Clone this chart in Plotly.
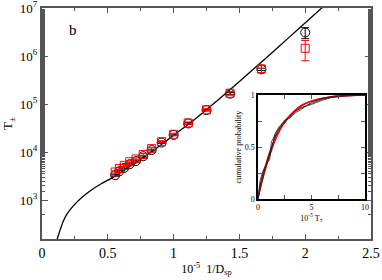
import plotly.graph_objects as go

# ---- main panel data ----
inv_d = [0.556, 0.588, 0.625, 0.667, 0.714, 0.769, 0.833, 0.909, 1.0, 1.111, 1.25, 1.429, 1.667, 2.0]
t_black = [3300, 4000, 4700, 5600, 6500, 8200, 11000, 15800, 22800, 39500, 75000, 165000, 530000, 3.1e6]
err_black = [150, 180, 200, 250, 300, 350, 450, 600, 900, 1500, 3000, 8000, 30000, 8.0e5]
t_red = [3850, 4550, 5300, 6300, 7200, 8900, 11800, 16500, 23500, 40500, 76000, 168000, 540000, 1.45e6]
err_red = [200, 230, 260, 300, 350, 420, 550, 750, 1100, 2000, 4000, 15000, 90000, 6.5e5]

fit_x = [0.112, 0.116, 0.125, 0.137, 0.16, 0.187, 0.238, 0.3, 0.365, 0.45, 0.504, 0.556, 0.667,
         0.833, 1.0, 1.15, 1.327, 1.5, 1.657, 1.809, 1.95, 2.125, 2.17]
fit_y = [120, 155, 186, 237, 355, 500, 760, 1120, 1550, 2190, 2630, 3160, 5000,
         10200, 22400, 45700, 115000, 295000, 708000, 1.66e6, 3.7e6, 1.0e7, 1.3e7]

y_tickvals = [1e3, 1e4, 1e5, 1e6, 1e7]
y_ticktext = ["10<sup>3</sup>", "10<sup>4</sup>", "10<sup>5</sup>", "10<sup>6</sup>", "10<sup>7</sup>"]
x_tickvals = [0, 0.5, 1, 1.5, 2, 2.5]
x_ticktext = ["0", "0.5", "1", "1.5", "2", "2.5"]

# ---- inset data (cumulative distributions) ----
t_cdf = [0, 0.2, 0.5, 0.8, 1.1, 1.25, 1.6, 2.0, 2.5, 3.0, 3.5, 4.0, 5.0, 6.0, 7.0, 8.0, 10.0]
cdf_black = [
    [0, 0.18, 0.28, 0.34, 0.38, 0.55, 0.62, 0.70, 0.75, 0.79, 0.84, 0.88, 0.91, 0.95, 0.98, 0.99, 1.0],
    [0, 0.10, 0.22, 0.35, 0.45, 0.50, 0.60, 0.68, 0.73, 0.80, 0.85, 0.87, 0.92, 0.96, 0.99, 1.0, 1.0],
    [0, 0.14, 0.26, 0.33, 0.42, 0.47, 0.63, 0.69, 0.76, 0.78, 0.83, 0.86, 0.93, 0.97, 0.98, 1.0, 1.0],
]
cdf_red = [
    [0, 0.09, 0.21, 0.32, 0.42, 0.46, 0.56, 0.65, 0.74, 0.80, 0.85, 0.89, 0.94, 0.97, 0.985, 0.995, 1.0],
    [0, 0.12, 0.25, 0.36, 0.46, 0.50, 0.59, 0.67, 0.75, 0.81, 0.86, 0.90, 0.94, 0.965, 0.98, 0.99, 1.0],
    [0, 0.11, 0.23, 0.34, 0.44, 0.48, 0.58, 0.66, 0.745, 0.805, 0.855, 0.895, 0.945, 0.97, 0.985, 0.995, 1.0],
]

FONT = "Liberation Serif"
AX = "#555555"

fig = go.Figure()

fig.add_trace(go.Scatter(x=fit_x, y=fit_y, mode="lines", line=dict(color="black", width=1.3, shape="spline"),
                         showlegend=False, hoverinfo="skip"))
fig.add_trace(go.Scatter(x=inv_d, y=t_black, mode="markers",
                         marker=dict(symbol="circle-open", size=9, color="black", line=dict(width=1)),
                         error_y=dict(type="data", array=err_black, color="black", thickness=1, width=4),
                         showlegend=False))
fig.add_trace(go.Scatter(x=inv_d, y=t_red, mode="markers",
                         marker=dict(symbol="square-open", size=8, color="red", line=dict(width=1)),
                         error_y=dict(type="data", array=err_red, color="red", thickness=1, width=4),
                         showlegend=False))

for ys in cdf_red:
    fig.add_trace(go.Scatter(x=t_cdf, y=ys, mode="lines", line=dict(color="red", width=1.1, shape="spline"),
                             xaxis="x2", yaxis="y2", showlegend=False))
for ys in cdf_black:
    fig.add_trace(go.Scatter(x=t_cdf, y=ys, mode="lines", line=dict(color="#222222", width=0.8),
                             xaxis="x2", yaxis="y2", showlegend=False))

fig.update_layout(
    width=382, height=280,
    margin=dict(l=42, r=11, t=8, b=41, autoexpand=False),
    paper_bgcolor="white", plot_bgcolor="white",
    font=dict(family=FONT, color="black", size=13),
    xaxis=dict(range=[0, 2.5], tickvals=x_tickvals, ticktext=x_ticktext, automargin=False,
               ticklabeloverflow="allow",
               ticks="inside", ticklen=5, tickwidth=1, tickcolor=AX,
               minor=dict(dtick=0.25, ticks="inside", ticklen=3, tickcolor=AX, showgrid=False),
               showline=True, linecolor=AX, linewidth=2, mirror="ticks", showgrid=False, zeroline=False,
               tickfont=dict(size=14, family=FONT),
               title=dict(text="10<sup>-5</sup>  1/D<sub>sp</sub>", font=dict(size=12, family=FONT), standoff=4)),
    yaxis=dict(type="log", range=[2.19, 7.001], tickvals=y_tickvals, ticktext=y_ticktext, automargin=False,
               ticklabeloverflow="allow",
               ticks="inside", ticklen=6, tickwidth=1, tickcolor=AX,
               minor=dict(ticks="inside", ticklen=3, tickcolor=AX, showgrid=False),
               showline=True, linecolor=AX, linewidth=2, mirror="ticks", showgrid=False, zeroline=False,
               tickfont=dict(size=13, family=FONT),
               title=dict(text="T<sub>±</sub>", font=dict(size=13, family=FONT), standoff=4)),
    xaxis2=dict(domain=[0.6565, 0.9818], anchor="y2", range=[0, 10], tickvals=[0, 5, 10],
                ticktext=["0", "5", "10"], automargin=False,
                ticks="inside", ticklen=4, tickcolor=AX,
                minor=dict(dtick=2.5, ticks="inside", ticklen=4, tickcolor=AX, showgrid=False),
                showline=True, linecolor="black", linewidth=1.5, mirror="ticks", showgrid=False, zeroline=False,
                tickfont=dict(size=8, family=FONT),
                title=dict(text="10<sup>-5</sup> T<sub>±</sub>", font=dict(size=8, family=FONT), standoff=2)),
    yaxis2=dict(domain=[0.173, 0.623], anchor="x2", range=[0, 1], tickvals=[0, 0.5, 1],
                ticktext=["0", "0.5", "1"], automargin=False,
                ticks="inside", ticklen=4, tickcolor=AX,
                minor=dict(dtick=0.25, ticks="inside", ticklen=4, tickcolor=AX, showgrid=False),
                showline=True, linecolor="black", linewidth=1.5, mirror="ticks", showgrid=False, zeroline=False,
                tickfont=dict(size=8, family=FONT),
                title=dict(text="cumulative probability", font=dict(size=8, family=FONT), standoff=2)),
    annotations=[dict(text="b", x=0.095, y=0.905, xref="paper", yref="paper", showarrow=False,
                      font=dict(size=15, family=FONT), xanchor="center", yanchor="middle")],
)

fig.write_html("out.html", config={"displayModeBar": False},
               post_script="document.body.style.margin='0';document.body.style.overflow='hidden';")
